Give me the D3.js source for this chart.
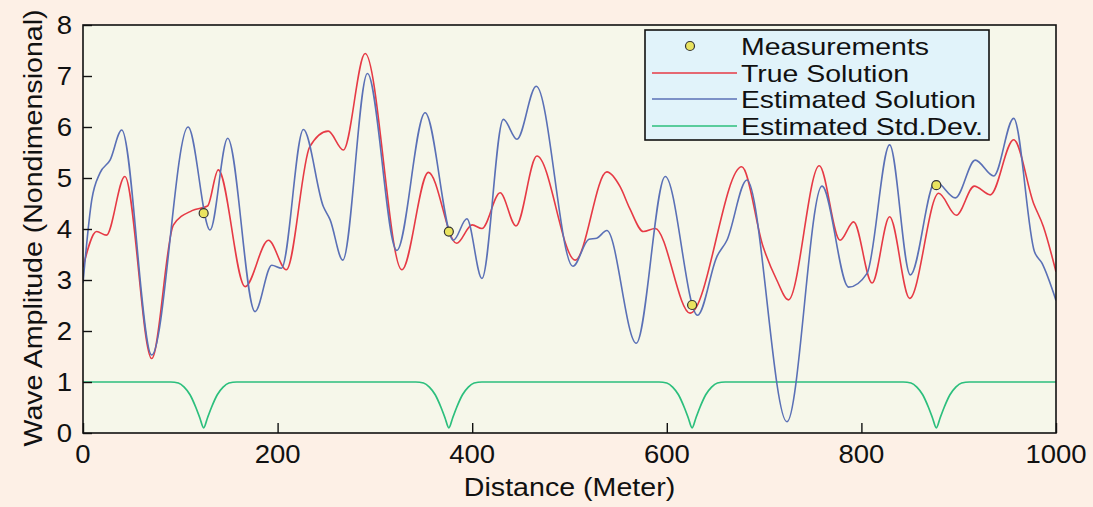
<!DOCTYPE html>
<html>
<head>
<meta charset="utf-8">
<script src="https://cdn.jsdelivr.net/npm/d3@7"></script>
<style>
  html, body { margin: 0; padding: 0; background: #fdf0e6; }
  svg { display: block; font-family: "Liberation Sans", Arial, Helvetica, sans-serif; }
</style>
</head>
<body>
<div class="chart"></div>
<script>
// values
var trueX = [0, 14, 24, 43, 70.6, 93, 112, 128, 139, 166.6, 190.6, 209, 233, 252, 267.6, 290, 327.7, 355, 384, 400, 410, 428.7, 445, 466.5, 505.9, 538.4, 552, 562, 576, 588, 624, 677, 699, 713, 725, 756.7, 778, 792, 811, 829, 849.6, 879.4, 897.6, 916, 932.5, 956.5, 977, 987, 1000];
var trueY = [3.25, 3.95, 3.88, 5.03, 1.46, 4.08, 4.36, 4.45, 5.16, 2.87, 3.78, 3.2, 5.61, 5.92, 5.55, 7.44, 3.2, 5.11, 3.72, 4.08, 4.01, 4.71, 4.06, 5.43, 3.39, 5.12, 4.83, 4.4, 3.95, 4.01, 2.35, 5.22, 3.65, 3.0, 2.61, 5.24, 3.78, 4.14, 2.94, 4.24, 2.64, 4.7, 4.27, 4.84, 4.67, 5.75, 4.5, 4.05, 3.16];

var estX = [0, 9, 17.5, 27.8, 39.8, 70.6, 108, 130.6, 148.7, 176.8, 194, 204, 226.5, 247, 254, 267, 292.3, 322.5, 351.6, 380.7, 394.5, 410, 432, 446, 465.8, 503.5, 520, 528, 538.4, 568.6, 598.4, 631.6, 651.5, 661.8, 682.3, 723.5, 759.5, 786.9, 805.8, 829, 850.3, 876, 896.6, 917, 936, 956.5, 977.8, 985.6, 1000];
var estY = [2.94, 4.57, 5.1, 5.35, 5.94, 1.53, 6.0, 3.98, 5.78, 2.38, 3.29, 3.23, 5.95, 4.44, 4.18, 3.39, 7.05, 3.58, 6.28, 3.78, 4.2, 3.03, 6.15, 5.76, 6.8, 3.27, 3.8, 3.82, 3.97, 1.76, 5.03, 2.31, 3.46, 3.78, 4.96, 0.22, 4.84, 2.86, 3.13, 5.65, 3.1, 4.93, 4.61, 5.35, 5.04, 6.17, 3.56, 3.33, 2.6];

var stdX = [0, 90, 98, 104, 110, 116, 120, 124, 128, 132, 138, 144, 150, 158,
            342, 350, 356, 362, 368, 372, 376, 380, 384, 390, 396, 402, 410,
            592, 600, 606, 612, 618, 622, 626, 630, 634, 640, 646, 652, 660,
            843, 851, 857, 863, 869, 873, 877, 881, 885, 891, 897, 903, 911, 1000];
var stdY = [1.0, 1.0, 0.98, 0.9, 0.75, 0.5, 0.3, 0.1, 0.3, 0.5, 0.75, 0.9, 0.98, 1.0,
            1.0, 0.98, 0.9, 0.75, 0.5, 0.3, 0.1, 0.3, 0.5, 0.75, 0.9, 0.98, 1.0,
            1.0, 0.98, 0.9, 0.75, 0.5, 0.3, 0.1, 0.3, 0.5, 0.75, 0.9, 0.98, 1.0,
            1.0, 0.98, 0.9, 0.75, 0.5, 0.3, 0.1, 0.3, 0.5, 0.75, 0.9, 0.98, 1.0, 1.0];

var measX = [124, 376, 626, 877];
var measY = [4.31, 3.95, 2.51, 4.86];

var xMajor = [0, 200, 400, 600, 800, 1000];
var yMajor = [0, 1, 2, 3, 4, 5, 6, 7, 8];

var legendNames = ["Measurements", "True Solution", "Estimated Solution", "Estimated Std.Dev."];
var colours = { truth: "#e63a45", est: "#5a70b6", std: "#2cbf7d", meas: "#e9e35f" };

var W = 1093, H = 507;
var margin = { left: 83, right: 37, top: 25, bottom: 74 };

var svg = d3.select(".chart").append("svg").attr("width", W).attr("height", H);
svg.append("rect").attr("width", W).attr("height", H).attr("fill", "#fdf0e6");

var x = d3.scaleLinear().domain([0, 1000]).range([margin.left, W - margin.right]);
var y = d3.scaleLinear().domain([0, 8]).range([H - margin.bottom, margin.top]);

var pw = x(1000) - x(0), ph = y(0) - y(8);

svg.append("rect").attr("x", x(0)).attr("y", y(8)).attr("width", pw).attr("height", ph)
    .attr("fill", "#f6f7ea");

svg.append("clipPath").attr("id", "clip").append("rect")
    .attr("x", x(0)).attr("y", y(8)).attr("width", pw).attr("height", ph);

// stretched text helper (the original type is a bit wider than Arial)
function label(g, tx, ty, str, size, anchor, rot) {
    return g.append("text")
        .attr("transform", "translate(" + tx + "," + ty + ")" + (rot ? " rotate(" + rot + ")" : "") + " scale(1.1,1)")
        .attr("font-size", size)
        .attr("text-anchor", anchor || "start")
        .attr("fill", "#111")
        .text(str);
}

// curves
var plot = svg.append("g").attr("clip-path", "url(#clip)");
var line = d3.line().x(d => x(d[0])).y(d => y(d[1])).curve(d3.curveMonotoneX);

plot.append("path").datum(d3.zip(stdX, stdY)).attr("d", line)
    .attr("fill", "none").attr("stroke", colours.std).attr("stroke-width", 1.7);
plot.append("path").datum(d3.zip(trueX, trueY)).attr("d", line)
    .attr("fill", "none").attr("stroke", colours.truth).attr("stroke-width", 1.6);
plot.append("path").datum(d3.zip(estX, estY)).attr("d", line)
    .attr("fill", "none").attr("stroke", colours.est).attr("stroke-width", 1.6);

plot.selectAll(".meas").data(d3.zip(measX, measY)).enter().append("circle")
    .attr("cx", d => x(d[0])).attr("cy", d => y(d[1])).attr("r", 4.5)
    .attr("fill", colours.meas).attr("stroke", "#333").attr("stroke-width", 1.2);

// axes (ticks point inward)
var gx = svg.append("g").attr("transform", "translate(0," + y(0) + ")");
gx.call(d3.axisBottom(x).ticks(20).tickSize(-6).tickFormat(""));
gx.call(d3.axisBottom(x).tickValues(xMajor).tickSize(-10).tickFormat(""));
var gy = svg.append("g").attr("transform", "translate(" + x(0) + ",0)");
gy.call(d3.axisLeft(y).ticks(40).tickSize(-6).tickFormat(""));
gy.call(d3.axisLeft(y).tickValues(yMajor).tickSize(-9).tickFormat(""));
svg.selectAll(".domain").remove();
svg.selectAll(".tick line").attr("stroke", "#111").attr("stroke-width", 1.4);

svg.append("rect").attr("x", x(0)).attr("y", y(8)).attr("width", pw).attr("height", ph)
    .attr("fill", "none").attr("stroke", "#111").attr("stroke-width", 1.6);

xMajor.forEach(v => label(svg, x(v), 463, v, 25, "middle"));
yMajor.forEach(v => label(svg, x(0) - 11, y(v) + 9, v, 25, "end"));

label(svg, (x(0) + x(1000)) / 2, 496, "Distance (Meter)", 26, "middle");
svg.append("text")
    .attr("transform", "translate(42," + (y(4) - 1) + ") rotate(-90)")
    .attr("font-size", 26).attr("text-anchor", "middle").attr("fill", "#111")
    .attr("textLength", 437).attr("lengthAdjust", "spacingAndGlyphs")
    .text("Wave Amplitude (Nondimensional)");

// legend
var leg = svg.append("g");
leg.append("rect").attr("x", 645).attr("y", 30).attr("width", 344).attr("height", 110)
    .attr("fill", "#e1f3fa").attr("stroke", "#111").attr("stroke-width", 1.6);
var rowY = [46, 73, 99, 126];
var rowW = [188, 168, 235, 242];
leg.append("circle").attr("cx", 690).attr("cy", rowY[0]).attr("r", 4.5)
    .attr("fill", colours.meas).attr("stroke", "#333").attr("stroke-width", 1.2);
[colours.truth, colours.est, colours.std].forEach((c, i) => {
    leg.append("line").attr("x1", 652).attr("x2", 737)
        .attr("y1", rowY[i + 1]).attr("y2", rowY[i + 1])
        .attr("stroke", c).attr("stroke-width", 1.6);
});
legendNames.forEach((n, i) => {
    leg.append("text").attr("x", 741).attr("y", rowY[i] + 9)
        .attr("font-size", 24).attr("fill", "#111")
        .attr("textLength", rowW[i]).attr("lengthAdjust", "spacingAndGlyphs")
        .text(n);
});
</script>
</body>
</html>
